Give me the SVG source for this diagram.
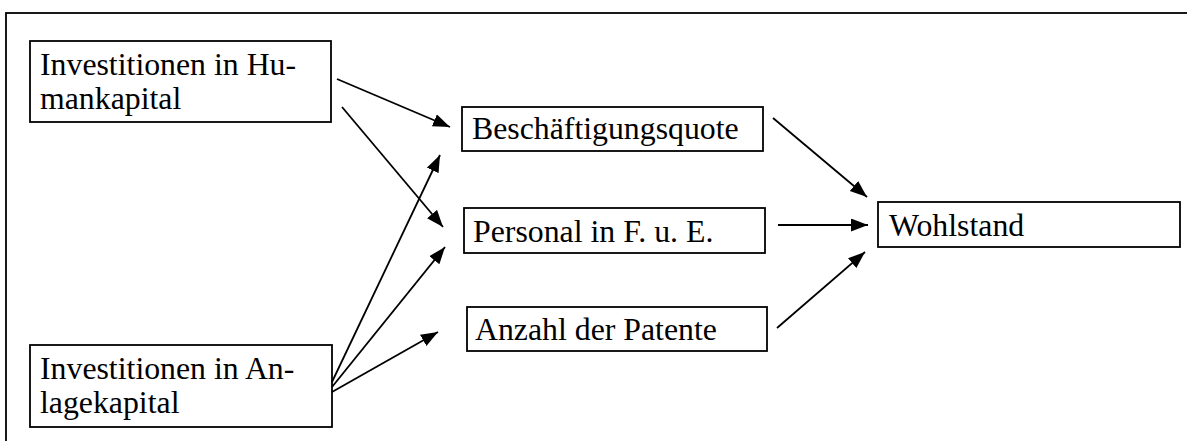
<svg xmlns="http://www.w3.org/2000/svg" width="1187" height="441" viewBox="0 0 1187 441">
<style>
.box{fill:#fff;stroke:#000;stroke-width:1.8}
.t{font-family:"Liberation Serif","Times New Roman",serif;font-size:31.8px;fill:#000}
.c{stroke:#000;stroke-width:1.8;fill:none;marker-end:url(#ah)}
</style>
<defs>
<marker id="ah" markerUnits="userSpaceOnUse" markerWidth="20" markerHeight="14" refX="17" refY="6.5" orient="auto">
<path d="M0,0 L17,6.5 L0,13 z" fill="#000"/>
</marker>
</defs>
<rect width="1187" height="441" fill="#fff"/>
<rect x="6" y="13" width="1200" height="450" fill="none" stroke="#000" stroke-width="1.8"/>
<g id="n-human">
<rect class="box" x="30" y="41" width="301" height="81"/>
<text class="t" x="40" y="75">Investitionen in Hu-</text>
<text class="t" x="40" y="109">mankapital</text>
</g>
<g id="n-anlage">
<rect class="box" x="30" y="345" width="302" height="82"/>
<text class="t" x="40" y="379">Investitionen in An-</text>
<text class="t" x="40" y="413">lagekapital</text>
</g>
<g id="n-besch">
<rect class="box" x="462" y="107" width="301" height="44"/>
<text class="t" x="472" y="139">Beschäftigungsquote</text>
</g>
<g id="n-personal">
<rect class="box" x="464" y="208" width="301" height="45"/>
<text class="t" x="473" y="242">Personal in F. u. E.</text>
</g>
<g id="n-patente">
<rect class="box" x="467" y="307" width="300" height="44"/>
<text class="t" x="475" y="340">Anzahl der Patente</text>
</g>
<g id="n-wohl">
<rect class="box" x="878" y="202" width="302" height="45"/>
<text class="t" x="889" y="236">Wohlstand</text>
</g>
<g id="connectors">
<line class="c" x1="337" y1="79" x2="450" y2="127"/>
<line class="c" x1="342" y1="107" x2="443" y2="227"/>
<line class="c" x1="332" y1="382" x2="440" y2="155"/>
<line class="c" x1="332" y1="387" x2="445" y2="247"/>
<line class="c" x1="332" y1="392" x2="438" y2="332"/>
<line class="c" x1="773" y1="118" x2="867" y2="197"/>
<line class="c" x1="778" y1="225" x2="868" y2="225"/>
<line class="c" x1="777" y1="328" x2="865" y2="252"/>
</g>
</svg>
